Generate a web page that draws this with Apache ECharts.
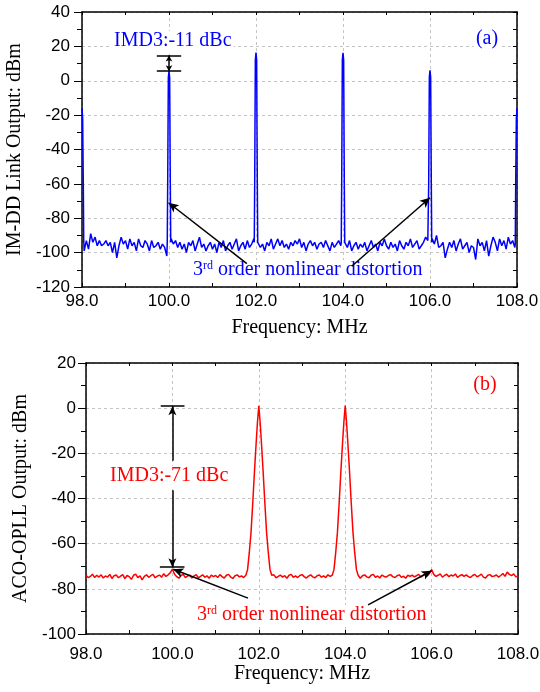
<!DOCTYPE html>
<html><head><meta charset="utf-8">
<script src="https://cdn.jsdelivr.net/npm/echarts@6/dist/echarts.min.js"></script>
<style>html,body{margin:0;padding:0;background:#fff}#c{width:540px;height:692px}</style>
</head><body><div id="c"></div>
<script>
// ---------- data ----------
const freqStart = 98, freqStep = 0.05;           // spectrum analyser sweep grid
// Panel (a): IM-DD link noise floor (dBm), one value per 0.05 MHz from 98.00 to 108.00
const noiseA = [
 -97,-99,-93,-98,-89,-94,-91,-96,-93,-96,
 -95,-93,-96,-94,-100,-94,-103,-96,-91,-95,
 -93,-98,-92,-96,-94,-99,-92,-96,-97,-93,
 -95,-99,-93,-97,-96,-94,-98,-95,-97,-102,
 -94,-92,-95,-93,-97,-94,-98,-95,-100,-94,
 -96,-93,-99,-95,-91,-97,-95,-99,-96,-94,
 -98,-95,-100,-94,-97,-93,-99,-96,-94,-98,
 -95,-92,-99,-96,-94,-98,-93,-97,-95,-92,
 -94,-93,-97,-95,-99,-94,-96,-92,-98,-95,
 -92,-96,-93,-97,-95,-98,-94,-96,-93,-95,
 -92,-97,-94,-99,-95,-93,-96,-94,-98,-95,
 -94,-97,-93,-96,-99,-94,-97,-95,-93,-96,
 -94,-95,-97,-93,-99,-96,-94,-98,-95,-97,
 -94,-99,-96,-93,-97,-95,-99,-94,-96,-92,
 -96,-98,-94,-97,-95,-99,-93,-96,-98,-94,
 -96,-92,-97,-95,-93,-98,-96,-94,-91,-93,
 -94,-92,-95,-90,-97,-96,-94,-103,-98,-94,
 -97,-93,-99,-95,-92,-98,-96,-94,-100,-96,
 -97,-104,-92,-96,-94,-99,-93,-102,-96,-91,
 -94,-99,-92,-96,-93,-98,-91,-95,-93,-97,
 -95
];
// Panel (a): tones and IMD3 spikes [MHz, dBm]
const spikeCentersA = [98, 100, 102, 104, 106, 108];
const spikesA = [
 [98.0,-16],[98.015,-22],[98.03,-60],[98.04,-93],
 [99.96,-94],[99.97,-60],[99.985,2],[100.0,5.5],[100.015,2],[100.03,-60],[100.04,-94],
 [101.96,-94],[101.97,-60],[101.985,12],[102.0,16.4],[102.015,12],[102.03,-60],[102.04,-94],
 [103.96,-94],[103.97,-60],[103.985,12],[104.0,16.3],[104.015,12],[104.03,-60],[104.04,-94],
 [105.96,-93],[105.97,-60],[105.985,2],[106.0,6.0],[106.015,2],[106.03,-60],[106.04,-94],
 [107.96,-95],[107.97,-60],[107.985,-22],[108.0,-16]
];
// Panel (b): ACO-OPLL noise floor (dBm), one value per 0.05 MHz from 98.00 to 108.00
const noiseB = [
 -74,-75,-74.5,-73.5,-75,-74,-74.8,-73.8,-75.2,-74.3,
 -74.8,-73.6,-75.4,-74.2,-73.9,-75.1,-74.4,-73.7,-75.5,-74.1,
 -74.6,-75.8,-74,-73.5,-75,-74.3,-76,-74.5,-73.8,-74.9,
 -74.2,-73.6,-75.1,-74.4,-73.9,-74.8,-73.3,-74.5,-73.8,-72.9,
 -71.3,-73.5,-74.6,-75.3,-74.1,-73.6,-75,-74.4,-73.9,-75.2,
 -74.3,-73.7,-75.1,-74.5,-73.8,-74.9,-74.2,-75.3,-73.9,-74.6,
 -74.1,-75,-73.7,-74.6,-75.2,-74,-73.6,-74.8,-75.4,-74.2,
 -73.8,-74.7,-74.3,-75,-74.1,-73.9,-74.5,-74.2,-74,-74,
 -74,-74,-74,-74,-74,-74,-74.4,-73.8,-75.1,-74.5,
 -73.9,-74.8,-74.2,-75.3,-74,-73.6,-74.9,-74.3,-75,-74.1,
 -73.7,-74.6,-75.2,-74.4,-73.8,-74.7,-75.1,-74.2,-73.9,-74.8,
 -74.3,-75,-73.8,-74.5,-74,-74,-74,-74,-74,-74,
 -74,-74,-74,-74,-74,-74,-74.6,-75.3,-74.2,-73.8,
 -74.7,-75.1,-74,-73.6,-74.9,-74.3,-75.2,-73.9,-74.5,-74.8,
 -74.1,-73.7,-74.6,-75,-74.2,-73.8,-74.9,-74.4,-75.3,-74,
 -74.5,-73.9,-74.7,-74.2,-73.6,-74.8,-74.1,-73.7,-74.3,-73.2,
 -71.5,-73.6,-74.5,-74,-73.4,-74.8,-74.1,-73.5,-74.6,-73.9,
 -74.3,-73.4,-74.9,-74.2,-73.7,-74.5,-73.8,-74.6,-75,-74.1,
 -73.6,-74.7,-74.2,-73.5,-74.8,-75.2,-74,-73.7,-74.6,-74.3,
 -73.9,-74.8,-74.1,-73.2,-74.5,-72.6,-73.6,-74.2,-73.4,-74.7,
 -74.3
];
// Panel (b): the two carriers [MHz, dBm]
const peakCentersB = [102, 104];
const peaksB = [
 [101.70,-74],[101.74,-71.5],[101.78,-64],[101.82,-55],[101.86,-42],[101.90,-28],[101.94,-15],[101.97,-6],[102.0,1.0],
 [102.03,-6],[102.06,-15],[102.10,-28],[102.14,-42],[102.18,-55],[102.22,-64],[102.26,-71.5],[102.30,-74],
 [103.70,-74],[103.74,-71.5],[103.78,-64],[103.82,-55],[103.86,-42],[103.90,-28],[103.94,-15],[103.97,-6],[104.0,1.2],
 [104.03,-6],[104.06,-15],[104.10,-28],[104.14,-42],[104.18,-55],[104.22,-64],[104.26,-71.5],[104.30,-74]
];
// annotation values
const imdA = {carrier: 14.7, imd3: 5.6, label: 'IMD3:-11 dBc'};
const imdB = {carrier: 0.9, imd3: -70.4, label: 'IMD3:-71 dBc'};

function merge(noise, spikes, centers, win) {
  const pts = [];
  noise.forEach((v, i) => {
    const f = +(freqStart + i * freqStep).toFixed(3);
    if (!centers.some(c => Math.abs(f - c) < win)) pts.push([f, v]);
  });
  spikes.forEach(p => pts.push(p));
  pts.sort((a, b) => a[0] - b[0]);
  return pts;
}
const dataA = merge(noiseA, spikesA, spikeCentersA, 0.045);
const dataB = merge(noiseB, peaksB, peakCentersB, 0.31);

// ---------- styles ----------
const SANS = 'Liberation Sans', SERIF = 'Liberation Serif';
const BLUE = '#0000ff', RED = '#ff0000';
const gridLine = {show: true, lineStyle: {color: '#c4c4c4', type: [3, 3], width: 1}};
const axLine = {show: true, onZero: false, lineStyle: {color: '#000', width: 1.5}};

function xMain(g, margin, gap) {
  return {
    gridIndex: g, type: 'value', min: 98, max: 108, interval: 2, position: 'bottom',
    axisLine: axLine,
    axisTick: {show: true, inside: true, length: 4, lineStyle: {color: '#000', width: 1}},
    minorTick: {show: true, splitNumber: 2, length: 4, lineStyle: {color: '#000', width: 1}},
    axisLabel: {formatter: v => v.toFixed(1), fontFamily: SANS, fontSize: 17, color: '#000', margin: margin},
    splitLine: gridLine,
    name: 'Frequency: MHz', nameLocation: 'middle', nameGap: gap,
    nameTextStyle: {fontFamily: SERIF, fontSize: 20, color: '#000'}
  };
}
function xTop(g) {
  return {
    gridIndex: g, type: 'value', min: 98, max: 108, interval: 1, position: 'top',
    axisLine: axLine,
    axisTick: {show: true, inside: true, length: 3, lineStyle: {color: '#000', width: 1}},
    axisLabel: {show: false}, splitLine: {show: false}
  };
}
function yMain(g, min, max, name, margin, gap) {
  return {
    gridIndex: g, type: 'value', min: min, max: max, interval: 20, position: 'left',
    axisLine: axLine,
    axisTick: {show: true, inside: false, length: 8, lineStyle: {color: '#000', width: 1}},
    minorTick: {show: true, splitNumber: 2, length: 5, lineStyle: {color: '#000', width: 1}},
    axisLabel: {fontFamily: SANS, fontSize: 17, color: '#000', margin: margin},
    splitLine: gridLine,
    name: name, nameLocation: 'middle', nameGap: gap,
    nameTextStyle: {fontFamily: SERIF, fontSize: 20, color: '#000'}
  };
}
function yRight(g, min, max) {
  return {
    gridIndex: g, type: 'value', min: min, max: max, interval: 10, position: 'right',
    axisLine: axLine,
    axisTick: {show: true, inside: true, length: 4, lineStyle: {color: '#000', width: 1}},
    axisLabel: {show: false}, splitLine: {show: false}
  };
}
const arrowLine = {color: '#000', width: 1.5, type: 'solid'};
function seg(p1, p2, s1, s2, size) {
  const sz = size || [7, 10];
  return [{coord: p1, symbol: s1 || 'none', symbolSize: sz}, {coord: p2, symbol: s2 || 'none', symbolSize: sz}];
}
function label(x, y, text, color, align) {
  return {type: 'text', x: x, y: y, z: 1, silent: true, style: {
    text: text, font: '20px "Liberation Serif"', fill: color, align: align, verticalAlign: 'middle',
    backgroundColor: '#fff', padding: [0, 2],
    rich: {s: {fontSize: 12, fontFamily: SERIF, fill: color, verticalAlign: 'top'}}
  }};
}

const option = {
  animation: false,
  backgroundColor: '#fff',
  grid: [
    {left: 82, top: 12, width: 435, height: 275, containLabel: false, outerBoundsMode: 'none'},
    {left: 86, top: 363, width: 432, height: 271, containLabel: false, outerBoundsMode: 'none'}
  ],
  xAxis: [xMain(0, 6, 31), xTop(0), xMain(1, 12, 28), xTop(1)],
  yAxis: [
    yMain(0, -120, 40, 'IM-DD Link Output: dBm', 12, 50), yRight(0, -120, 40),
    yMain(1, -100, 20, 'ACO-OPLL Output: dBm', 10, 55), yRight(1, -100, 20)
  ],
  series: [
    {
      type: 'line', xAxisIndex: 0, yAxisIndex: 0, data: dataA, showSymbol: false, symbol: 'none',
      lineStyle: {color: BLUE, width: 1.5}, silent: true, z: 3,
      markLine: {
        silent: true, animation: false, label: {show: false}, lineStyle: arrowLine, emphasis: {disabled: true},
        data: [
          seg([99.72, imdA.carrier], [100.28, imdA.carrier]),
          seg([99.72, imdA.imd3], [100.28, imdA.imd3]),
          seg([100, imdA.imd3], [100, imdA.carrier], 'arrow', 'arrow', [5, 6]),
          seg([101.79, -106.4], [99.99, -71], 'none', 'arrow'),
          seg([104.2, -107.9], [106.0, -68.1], 'none', 'arrow')
        ]
      }
    },
    {
      type: 'line', xAxisIndex: 2, yAxisIndex: 2, data: dataB, showSymbol: false, symbol: 'none',
      lineStyle: {color: RED, width: 1.5}, silent: true, z: 3,
      markLine: {
        silent: true, animation: false, label: {show: false}, lineStyle: arrowLine, emphasis: {disabled: true},
        data: [
          seg([99.73, imdB.carrier], [100.28, imdB.carrier]),
          seg([99.71, imdB.imd3], [100.28, imdB.imd3]),
          seg([100, -23.3], [100, imdB.carrier], 'none', 'arrow', [6, 9]),
          seg([100, -36.3], [100, imdB.imd3], 'none', 'arrow', [6, 9]),
          seg([101.75, -84.1], [100.02, -71.3], 'none', 'arrow'),
          seg([104.53, -87.1], [106.0, -72], 'none', 'arrow')
        ]
      }
    }
  ],
  graphic: [
    label(112, 41, imdA.label, BLUE, 'left'),
    label(487, 39, '(a)', BLUE, 'center'),
    label(191, 270, '3{s|rd} order nonlinear distortion', BLUE, 'left'),
    label(108, 476, imdB.label, RED, 'left'),
    label(485, 385, '(b)', RED, 'center'),
    label(195, 615, '3{s|rd} order nonlinear distortion', RED, 'left')
  ]
};
const chart = echarts.init(document.getElementById('c'), null, {renderer: 'canvas'});
chart.setOption(option);
</script>
</body></html>
